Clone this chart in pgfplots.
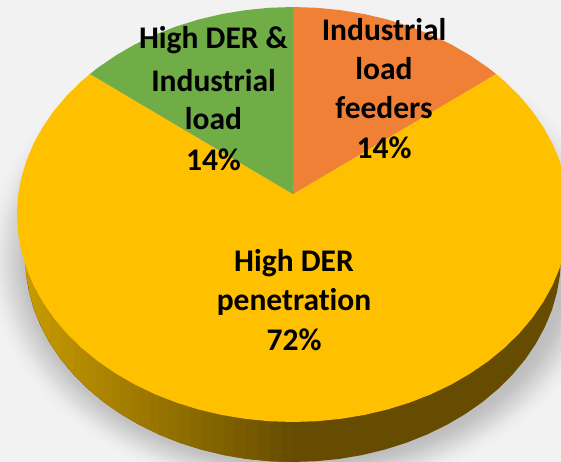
\documentclass[border=0pt]{standalone}
\usepackage{fontspec}
\setmainfont[Ligatures=CommonOff]{Carlito}
\usepackage{pgfplots}
\usepackage{pgfplotstable}
\pgfplotsset{compat=1.18}
\definecolor{bgc}{HTML}{F2F2F3}
\definecolor{yel}{HTML}{FFC000}
\definecolor{ora}{HTML}{F08035}
\definecolor{gre}{HTML}{70AD47}
\definecolor{sideA}{HTML}{C89B00}
\definecolor{sideB}{HTML}{664C00}
\tikzset{lab/.style={font=\fontsize{31.5}{36}\selectfont\bfseries, text=black, inner sep=0pt, anchor=center}}
\pgfplotsset{pieaxis/.style={
  at={(0pt,0pt)}, anchor=south west,
  scale only axis, width=561pt, height=462pt,
  xmin=0, xmax=561, ymin=0, ymax=462, y dir=reverse,
  hide axis, clip=true}}
% lower rim of the pie
\pgfplotstableread{
x y
25 257
26 274.9
29.1 292.6
34.1 310.1
41.2 327.1
50.1 343.6
60.9 359.5
73.5 374.6
87.7 388.8
103.5 402
120.7 414
139.3 424.9
159 434.5
179.7 442.8
201.3 449.6
223.6 455
246.5 458.9
269.6 461.2
293 462
316.4 461.2
339.5 458.9
362.4 455
384.7 449.6
406.3 442.8
427 434.5
446.7 424.9
465.3 414
482.5 402
498.3 388.8
512.5 374.6
525.1 359.5
535.9 343.6
544.8 327.1
551.9 310.1
556.9 292.6
560 274.9
561 257
}\rimtable
% full outline used for the shadow
\pgfplotstableread{
x y
25 257
26 274.9
29.1 292.6
34.1 310.1
41.2 327.1
50.1 343.6
60.9 359.5
73.5 374.6
87.7 388.8
103.5 402
120.7 414
139.3 424.9
159 434.5
179.7 442.8
201.3 449.6
223.6 455
246.5 458.9
269.6 461.2
293 462
316.4 461.2
339.5 458.9
362.4 455
384.7 449.6
406.3 442.8
427 434.5
446.7 424.9
465.3 414
482.5 402
498.3 388.8
512.5 374.6
525.1 359.5
535.9 343.6
544.8 327.1
551.9 310.1
556.9 292.6
560 274.9
561 257
556.9 221.4
544.8 186.9
525.1 154.5
498.3 125.2
465.3 100
427 79.5
362.4 59
293 52
223.6 59
159 79.5
120.7 100
87.7 125.2
60.9 154.5
41.2 186.9
29.1 221.4
}\shadowtable
\newcommand\shlayer[2]{%
  \addplot[fill=black!#2!bgc, draw=none, forget plot]
    table[x expr={298+(\thisrow{x}-293)*#1}, y expr={257+(\thisrow{y}-257)*#1}] {\shadowtable};}
\newcommand\sideq[5]{%
  \addplot[fill=sideB!#5!sideA, draw=none, forget plot]
    coordinates {(#1,255) (#1,#2) (#3,#4) (#3,255)};}
\begin{document}
\begin{tikzpicture}
\begin{axis}[pieaxis]
\addplot[fill=bgc, draw=none, forget plot] coordinates {(0,0) (561,0) (561,462) (0,462)};
\shlayer{1.16}{1}
\shlayer{1.145}{2}
\shlayer{1.13}{3.5}
\shlayer{1.118}{5}
\shlayer{1.106}{7}
\shlayer{1.094}{9}
\shlayer{1.082}{11}
\shlayer{1.07}{13}
\shlayer{1.058}{15}
\shlayer{1.046}{17}
\shlayer{1.034}{19}
\shlayer{1.022}{20}
\shlayer{1.01}{21}
\end{axis}
\begin{axis}[pieaxis]
\addplot[fill=sideB, draw=none, forget plot] table {\rimtable};
\sideq{25}{257}{26.6}{275}{0.2}
\sideq{26}{274.9}{29.7}{293}{1}
\sideq{29.1}{292.6}{34.7}{310.5}{2.5}
\sideq{34.1}{310.1}{41.8}{327.5}{4.7}
\sideq{41.2}{327.1}{50.7}{344}{7.7}
\sideq{50.1}{343.6}{61.5}{360}{11.6}
\sideq{60.9}{359.5}{74.1}{375}{15.8}
\sideq{73.5}{374.6}{81.1}{382.1}{19.4}
\sideq{80.6}{381.7}{88.2}{389.2}{22}
\sideq{87.7}{388.8}{96.1}{395.8}{24.9}
\sideq{95.6}{395.4}{104}{402.4}{27.8}
\sideq{103.5}{402}{112.6}{408.3}{30.9}
\sideq{112.1}{408}{121.2}{414.3}{34.1}
\sideq{120.7}{414}{130.5}{419.8}{37.4}
\sideq{130}{419.5}{139.8}{425.1}{40.9}
\sideq{139.3}{424.9}{149.7}{429.9}{44.5}
\sideq{149.2}{429.7}{159.5}{434.7}{48.1}
\sideq{159}{434.5}{169.9}{438.9}{52}
\sideq{169.4}{438.7}{180.2}{443}{55.8}
\sideq{179.7}{442.8}{191}{446.3}{59.7}
\sideq{190.5}{446.2}{201.8}{449.7}{63.8}
\sideq{201.3}{449.6}{213}{452.4}{67.9}
\sideq{212.5}{452.3}{224.1}{455.1}{72}
\sideq{223.6}{455}{235.5}{457.1}{76.2}
\sideq{235}{457}{247}{459}{80.5}
\sideq{246.5}{458.9}{258.5}{460.1}{84.8}
\sideq{258}{460}{270.1}{461.3}{89.1}
\sideq{269.6}{461.2}{281.8}{461.7}{93.4}
\sideq{281.3}{461.6}{293}{462}{97.8}
% High DER penetration
\addplot[fill=yel, draw=none, forget plot] coordinates {
 (293,194) (496,74) (504.4,81.1) (519.1,95.5) (532,110.7) (543.1,126.8) (552.4,143.5) (559.6,160.8)
 (564.8,178.5) (568,196.4) (569,214.5) (568,232.6) (564.8,250.5) (559.6,268.2) (552.4,285.5)
 (543.1,302.2) (532,318.3) (519.1,333.5) (504.4,347.9) (488.2,361.2) (470.4,373.4) (451.3,384.5)
 (431,394.2) (409.6,402.6) (387.4,409.5) (364.4,414.9) (340.9,418.8) (317.1,421.2) (293,422)
 (268.9,421.2) (245.1,418.8) (221.6,414.9) (198.6,409.5) (176.4,402.6) (155,394.2) (134.7,384.5)
 (115.6,373.4) (97.8,361.2) (81.6,347.9) (66.9,333.5) (54,318.3) (42.9,302.2) (33.6,285.5)
 (26.4,268.2) (21.2,250.5) (18,232.6) (17,214.5) (18,196.4) (21.2,178.5) (26.4,160.8) (33.6,143.5)
 (42.9,126.8) (54,110.7) (66.9,95.5) (81.6,81.1) (90,74)};
% Industrial load feeders
\addplot[fill=ora, draw=none, forget plot] coordinates {
 (293,194) (293,7) (317.1,7.8) (340.9,10.2) (364.4,14.1) (387.4,19.5) (409.6,26.4) (431,34.8)
 (451.3,44.5) (470.4,55.6) (488.2,67.8) (496,74)};
% High DER & Industrial load
\addplot[fill=gre, draw=none, forget plot] coordinates {
 (293,194) (90,74) (97.8,67.8) (115.6,55.6) (134.7,44.5) (155,34.8) (176.4,26.4) (198.6,19.5)
 (221.6,14.1) (245.1,10.2) (268.9,7.8) (293,7)};
\node[lab] at (axis cs:213.5,40) {High DER \&};
\node[lab] at (axis cs:213.5,81) {Industrial};
\node[lab] at (axis cs:213.5,119) {load};
\node[lab] at (axis cs:213.5,160) {14\%};
\node[lab] at (axis cs:384,30) {Industrial};
\node[lab] at (axis cs:384,69) {load};
\node[lab] at (axis cs:384,108) {feeders};
\node[lab] at (axis cs:384,148) {14\%};
\node[lab] at (axis cs:294,263) {High DER};
\node[lab] at (axis cs:294,302) {penetration};
\node[lab] at (axis cs:294,340) {72\%};
\end{axis}
\end{tikzpicture}
\end{document}
